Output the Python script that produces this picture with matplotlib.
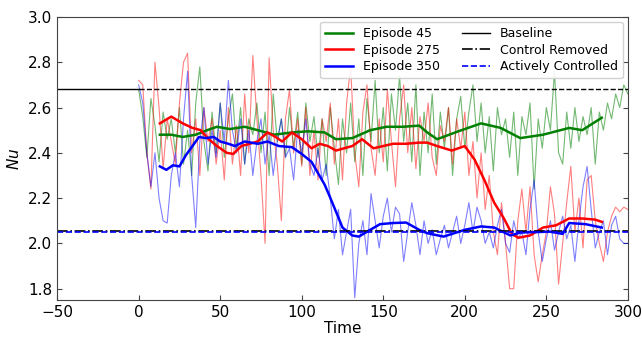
import numpy as np
import matplotlib
matplotlib.use('Agg')
import matplotlib.pyplot as plt

# raw Nu signals, sampled every 2.5 time units from t=0 to t=300
green_raw = [2.68, 2.56, 2.38, 2.64, 2.52, 2.36, 2.58, 2.46, 2.55, 2.40, 2.60, 2.35, 2.50, 2.30, 2.62, 2.78,
             2.45, 2.32, 2.58, 2.40, 2.62, 2.38, 2.55, 2.66, 2.42, 2.60, 2.35, 2.55, 2.48, 2.62, 2.40, 2.58,
             2.30, 2.66, 2.45, 2.55, 2.38, 2.60, 2.42, 2.58, 2.35, 2.62, 2.45, 2.56, 2.38, 2.55, 2.30, 2.60,
             2.42, 2.26, 2.55, 2.40, 2.62, 2.36, 2.55, 2.30, 2.64, 2.45, 2.72, 2.40, 2.60, 2.32, 2.66, 2.50,
             2.74, 2.45, 2.62, 2.36, 2.70, 2.30, 2.58, 2.40, 2.66, 2.35, 2.58, 2.42, 2.60, 2.30, 2.55, 2.65,
             2.42, 2.58, 2.70, 2.45, 2.62, 2.40, 2.56, 2.32, 2.60, 2.48, 2.55, 2.38, 2.58, 2.30, 2.56, 2.48,
             2.62, 2.24, 2.55, 2.42, 2.60, 2.50, 2.76, 2.40, 2.35, 2.58, 2.42, 2.60, 2.45, 2.56, 2.48, 2.60,
             2.35, 2.58, 2.50, 2.62, 2.55, 2.66, 2.60, 2.70, 2.66]
red_raw = [2.72, 2.70, 2.40, 2.24, 2.80, 2.60, 2.33, 2.55, 2.45, 2.35, 2.62, 2.80, 2.84, 2.40, 2.55, 2.30,
           2.60, 2.45, 2.55, 2.35, 2.50, 2.28, 2.60, 2.35, 2.52, 2.30, 2.66, 2.40, 2.83, 2.55, 2.30, 2.00,
           2.82, 2.50, 2.35, 2.10, 2.55, 2.68, 2.40, 2.55, 2.34, 2.60, 2.30, 2.50, 2.28, 2.55, 2.45, 2.62,
           2.35, 2.55, 2.28, 2.62, 2.78, 2.40, 2.25, 2.58, 2.70, 2.42, 2.30, 2.55, 2.36, 2.68, 2.45, 2.25,
           2.55, 2.70, 2.40, 2.60, 2.33, 2.56, 2.45, 2.62, 2.38, 2.30, 2.52, 2.45, 2.60, 2.35, 2.55, 2.42,
           2.58, 2.30, 2.45, 2.20, 2.40, 2.15, 2.30, 2.05, 1.95, 2.18, 2.00, 1.80, 1.80, 2.10, 2.24, 2.05,
           2.25, 1.95, 1.83, 1.95, 2.05, 2.25, 2.13, 1.82, 2.00, 2.18, 2.34, 2.05, 2.20, 1.98, 2.28, 2.30,
           2.10, 2.00, 1.92, 2.05, 2.12, 2.16, 2.14, 2.16, 2.15]
blue_raw = [2.70, 2.62, 2.40, 2.25, 2.40, 2.20, 2.10, 2.09, 2.30, 2.40, 2.25, 2.55, 2.76, 2.30, 2.07, 2.45,
            2.60, 2.35, 2.50, 2.38, 2.62, 2.45, 2.72, 2.50, 2.40, 2.55, 2.35, 2.50, 2.30, 2.45, 2.55, 2.35,
            2.48, 2.30, 2.45, 2.55, 2.38, 2.42, 2.28, 2.50, 2.40, 2.55, 2.35, 2.30, 2.42, 2.28, 2.35, 2.20,
            2.02, 2.15, 1.95, 2.05, 2.15, 1.76, 2.00, 2.10, 1.95, 2.22, 2.10, 1.98, 2.12, 2.20, 2.05, 2.16,
            2.13, 1.92, 2.05, 2.18, 2.08, 1.95, 2.10, 2.00, 2.06, 1.95, 2.02, 2.08, 1.98, 2.05, 2.12, 2.00,
            2.08, 2.18, 2.05, 2.16, 2.10, 2.00, 2.05, 1.98, 2.08, 2.15, 2.00, 1.96, 2.10, 2.02, 2.05, 1.95,
            2.15, 2.28, 2.05, 1.92, 2.02, 2.10, 1.97, 2.05, 2.12, 2.02, 2.08, 1.92, 2.10, 2.25, 2.34, 2.15,
            1.98, 2.05, 2.10, 1.95, 2.08, 2.12, 2.02, 2.00, 2.00]

# smoothed curves
green_t = [13, 20, 27, 35, 42, 48, 56, 65, 73, 83, 94, 104, 114, 121, 131, 142, 152, 162, 172, 177,
           183, 196, 210, 222, 230, 234, 248, 264, 272, 284]
green_s = [2.48, 2.48, 2.47, 2.48, 2.50, 2.515, 2.505, 2.515, 2.50, 2.48, 2.49, 2.495, 2.49, 2.46, 2.465,
           2.50, 2.515, 2.515, 2.52, 2.49, 2.46, 2.495, 2.53, 2.51, 2.48, 2.465, 2.48, 2.51, 2.50, 2.555]
red_t = [13, 20, 27, 33, 38, 43, 48, 54, 58, 63, 68, 73, 79, 84, 88, 94, 100, 106, 111, 116, 121, 126,
         131, 137, 144, 150, 156, 164, 172, 177, 183, 192, 200, 206, 212, 218, 224, 229, 233, 240, 248,
         256, 264, 272, 280, 284]
red_s = [2.53, 2.56, 2.53, 2.51, 2.50, 2.46, 2.43, 2.40, 2.395, 2.43, 2.44, 2.45, 2.49, 2.47, 2.45, 2.49,
         2.46, 2.42, 2.44, 2.43, 2.41, 2.42, 2.43, 2.46, 2.42, 2.43, 2.44, 2.44, 2.445, 2.445, 2.43, 2.41,
         2.43, 2.37, 2.28, 2.18, 2.11, 2.04, 2.025, 2.035, 2.07, 2.08, 2.11, 2.11, 2.105, 2.095]
blue_t = [13, 17, 21, 25, 29, 33, 37, 41, 46, 50, 55, 59, 65, 73, 79, 86, 94, 100, 106, 110, 114, 117,
          121, 125, 131, 135, 142, 148, 156, 164, 172, 177, 187, 200, 210, 218, 228, 234, 244, 252, 260,
          264, 274, 284]
blue_s = [2.34, 2.325, 2.345, 2.34, 2.39, 2.43, 2.47, 2.465, 2.47, 2.45, 2.44, 2.43, 2.45, 2.44, 2.45,
          2.43, 2.425, 2.395, 2.36, 2.31, 2.26, 2.21, 2.14, 2.07, 2.035, 2.03, 2.06, 2.085, 2.09, 2.092,
          2.06, 2.045, 2.03, 2.06, 2.075, 2.07, 2.035, 2.048, 2.05, 2.052, 2.042, 2.09, 2.085, 2.07]

baseline_nu = 2.68
removed_nu = 2.055
controlled_nu = 2.052

fig = plt.figure(figsize=(6.42, 3.39), dpi=100)
ax = fig.add_axes([0.089, 0.115, 0.889, 0.835])

# thin raw signals
ax.plot(np.linspace(0, 300, len(green_raw)), green_raw, color='green', lw=0.8, alpha=0.55)
ax.plot(np.linspace(0, 300, len(red_raw)), red_raw, color='red', lw=0.8, alpha=0.5)
ax.plot(np.linspace(0, 300, len(blue_raw)), blue_raw, color='blue', lw=0.8, alpha=0.5)

# smoothed
ax.plot(green_t, green_s, color='green', lw=1.8, label='Episode 45')
ax.plot(red_t, red_s, color='red', lw=1.8, label='Episode 275')
ax.plot(blue_t, blue_s, color='blue', lw=1.8, label='Episode 350')

# reference levels
ax.plot([-50, 0], [baseline_nu, baseline_nu], color='black', lw=1.0, label='Baseline')
ax.plot([0, 300], [baseline_nu, baseline_nu], color='black', lw=1.0, ls='--')
ax.plot([-50, 300], [removed_nu, removed_nu], color='black', lw=1.2, ls='-.', label='Control Removed')
ax.plot([-50, 300], [controlled_nu, controlled_nu], color='blue', lw=1.2, ls='--',
        label='Actively Controlled')

ax.set_xlim(-50, 300)
ax.set_ylim(1.75, 3.0)
ax.set_xticks([-50, 0, 50, 100, 150, 200, 250, 300])
ax.set_yticks([1.8, 2.0, 2.2, 2.4, 2.6, 2.8, 3.0])
ax.tick_params(direction='in', right=True, labelsize=11, color='#444444')
for s in ax.spines.values():
    s.set_color('#444444')
ax.set_xlabel('Time', fontsize=11, labelpad=1)
ax.set_ylabel('$Nu$', fontsize=11)

ax.legend(ncol=2, loc='upper right', fontsize=9, framealpha=0.9, handlelength=2.2,
          borderaxespad=0.4, columnspacing=1.8, labelspacing=0.3)

fig.savefig('out.png', dpi=100)
